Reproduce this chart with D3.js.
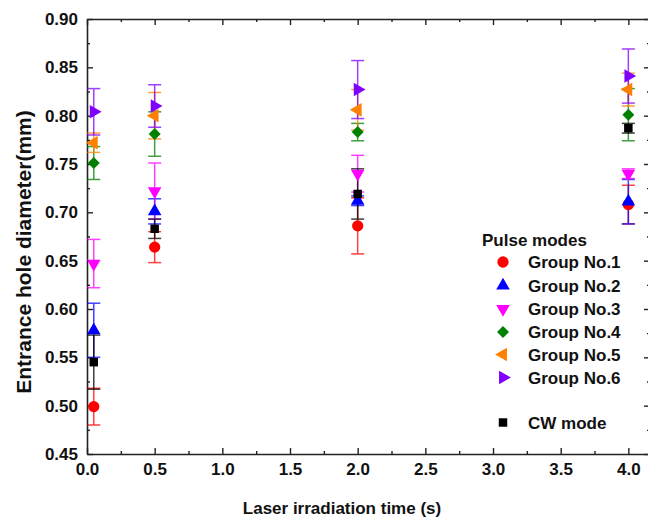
<!DOCTYPE html>
<html>
<head>
<meta charset="utf-8">
<script src="https://cdn.jsdelivr.net/npm/d3@7"></script>
<style>
  html, body { margin: 0; padding: 0; background: #fff; }
  svg { display: block; font-family: "Liberation Sans", Arial, sans-serif; }
</style>
</head>
<body>
<svg id="chart" width="648" height="521"></svg>
<script>
// Irradiation times (s)
const times = [0.05, 0.5, 2.0, 4.0];

// Mean entrance hole diameter (mm) and error for each group
const group1 = [0.499, 0.664, 0.686, 0.708];
const group1Err = [0.019, 0.016, 0.029, 0.020];
const group2 = [0.578, 0.701, 0.712, 0.711];
const group2Err = [0.028, 0.013, 0.005, 0.023];
const group3 = [0.647, 0.722, 0.740, 0.740];
const group3Err = [0.025, 0.029, 0.019, 0.005];
const group4 = [0.751, 0.781, 0.783, 0.801];
const group4Err = [0.017, 0.023, 0.009, 0.027];
const group5 = [0.772, 0.800, 0.806, 0.827];
const group5Err = [0.010, 0.024, 0.021, 0.017];
const group6 = [0.804, 0.810, 0.827, 0.841];
const group6Err = [0.024, 0.022, 0.030, 0.028];
const cwMode = [0.545, 0.683, 0.719, 0.787];
const cwModeErr = [0.028, 0.010, 0.026, 0.005];

const seriesNames = ["Group No.1", "Group No.2", "Group No.3", "Group No.4", "Group No.5", "Group No.6", "CW mode"];

const xTicks = [0, 0.5, 1.0, 1.5, 2.0, 2.5, 3.0, 3.5, 4.0];
const yTicks = [0.45, 0.50, 0.55, 0.60, 0.65, 0.70, 0.75, 0.80, 0.85, 0.90];

const series = [
  { name: seriesNames[0], values: group1, errs: group1Err, color: "#ff0000", shape: d3.symbolCircle, rot: 0, size: 100 },
  { name: seriesNames[1], values: group2, errs: group2Err, color: "#0000ff", shape: d3.symbolTriangle, rot: 0, size: 80 },
  { name: seriesNames[2], values: group3, errs: group3Err, color: "#ff00ff", shape: d3.symbolTriangle, rot: 180, size: 80 },
  { name: seriesNames[3], values: group4, errs: group4Err, color: "#008000", shape: d3.symbolSquare, rot: 45, size: 72 },
  { name: seriesNames[4], values: group5, errs: group5Err, color: "#ff8000", shape: d3.symbolTriangle, rot: -90, size: 80 },
  { name: seriesNames[5], values: group6, errs: group6Err, color: "#8000ff", shape: d3.symbolTriangle, rot: 90, size: 80 },
  { name: seriesNames[6], values: cwMode, errs: cwModeErr, color: "#000000", shape: d3.symbolSquare, rot: 0, size: 72 }
];

const svg = d3.select("#chart");
const plotLeft = 87, plotTop = 19, plotRight = 650, plotBottom = 454;

const x = d3.scaleLinear().domain([0, 4.16]).range([plotLeft, plotRight]);
const y = d3.scaleLinear().domain([0.45, 0.90]).range([plotBottom, plotTop]);

const axisColor = "#222";
const textColor = "#111";

// Frame axes with inward ticks on all four sides
function styleAxis(g) {
  g.selectAll("path.domain").attr("stroke", axisColor).attr("stroke-width", 1.6);
  g.selectAll(".tick line").attr("stroke", axisColor).attr("stroke-width", 1.4);
}
const xMinor = d3.range(0.25, 4.16, 0.5);
const yMinor = d3.range(0.475, 0.9, 0.05);

const gxB = svg.append("g").attr("transform", `translate(0,${plotBottom})`)
  .call(d3.axisBottom(x).tickValues(xTicks).tickSize(-6).tickSizeOuter(0).tickFormat(d3.format(".1f")));
gxB.selectAll("text").attr("font-size", 17).attr("font-weight", "bold").attr("fill", textColor).attr("y", 9);
styleAxis(gxB);
svg.append("g").attr("transform", `translate(0,${plotBottom})`)
  .call(d3.axisBottom(x).tickValues(xMinor).tickSize(-3).tickFormat(""))
  .call(g => g.select("path.domain").remove()).call(styleAxis);

const gxT = svg.append("g").attr("transform", `translate(0,${plotTop})`)
  .call(d3.axisTop(x).tickValues(xTicks).tickSize(-6).tickSizeOuter(0).tickFormat(""));
styleAxis(gxT);
svg.append("g").attr("transform", `translate(0,${plotTop})`)
  .call(d3.axisTop(x).tickValues(xMinor).tickSize(-3).tickFormat(""))
  .call(g => g.select("path.domain").remove()).call(styleAxis);

const gyL = svg.append("g").attr("transform", `translate(${plotLeft},0)`)
  .call(d3.axisLeft(y).tickValues(yTicks).tickSize(-6).tickSizeOuter(0).tickFormat(d3.format(".2f")));
gyL.selectAll("text").attr("font-size", 17).attr("font-weight", "bold").attr("fill", textColor).attr("x", -9);
styleAxis(gyL);
svg.append("g").attr("transform", `translate(${plotLeft},0)`)
  .call(d3.axisLeft(y).tickValues(yMinor).tickSize(-3).tickFormat(""))
  .call(g => g.select("path.domain").remove()).call(styleAxis);

const gyR = svg.append("g").attr("transform", `translate(${plotRight},0)`)
  .call(d3.axisRight(y).tickValues(yTicks).tickSize(-6).tickSizeOuter(0).tickFormat(""));
styleAxis(gyR);
svg.append("g").attr("transform", `translate(${plotRight},0)`)
  .call(d3.axisRight(y).tickValues(yMinor).tickSize(-3).tickFormat(""))
  .call(g => g.select("path.domain").remove()).call(styleAxis);

// Axis titles
svg.append("text")
  .attr("x", 342).attr("y", 514)
  .attr("text-anchor", "middle").attr("font-size", 17).attr("font-weight", "bold").attr("fill", textColor)
  .text("Laser irradiation time (s)");
svg.append("text")
  .attr("transform", `translate(31,252) rotate(-90)`)
  .attr("text-anchor", "middle").attr("font-size", 21).attr("font-weight", "bold").attr("fill", textColor)
  .text("Entrance hole diameter(mm)");

// Error bars, then markers
const capHalf = 6.5;
const plot = svg.append("g");
series.forEach(s => {
  const pts = times.map((t, i) => ({ t, v: s.values[i], e: s.errs[i] }));
  const eg = plot.append("g").attr("stroke", s.color).attr("stroke-width", 1.5).attr("opacity", 0.75);
  eg.selectAll("line.v").data(pts).join("line").attr("class", "v")
    .attr("x1", d => x(d.t)).attr("x2", d => x(d.t))
    .attr("y1", d => y(d.v - d.e)).attr("y2", d => y(d.v + d.e));
  eg.selectAll("line.top").data(pts).join("line").attr("class", "top")
    .attr("x1", d => x(d.t) - capHalf).attr("x2", d => x(d.t) + capHalf)
    .attr("y1", d => y(d.v + d.e)).attr("y2", d => y(d.v + d.e));
  eg.selectAll("line.bot").data(pts).join("line").attr("class", "bot")
    .attr("x1", d => x(d.t) - capHalf).attr("x2", d => x(d.t) + capHalf)
    .attr("y1", d => y(d.v - d.e)).attr("y2", d => y(d.v - d.e));
});
series.forEach(s => {
  const pts = times.map((t, i) => ({ t, v: s.values[i] }));
  const sym = d3.symbol().type(s.shape).size(s.size);
  plot.append("g").selectAll("path").data(pts).join("path")
    .attr("d", sym)
    .attr("fill", s.color)
    .attr("transform", d => `translate(${x(d.t)},${y(d.v)}) rotate(${s.rot})`);
});

// Legend
const lg = svg.append("g");
lg.append("text").attr("x", 482).attr("y", 246).attr("font-size", 17).attr("font-weight", "bold").attr("fill", textColor)
  .text("Pulse modes");
const rowY = [262, 285.5, 309, 332, 354.5, 377.5, 422.5];
series.forEach((s, i) => {
  const sym = d3.symbol().type(s.shape).size(s.size);
  lg.append("path").attr("d", sym).attr("fill", s.color)
    .attr("transform", `translate(503,${rowY[i]}) rotate(${s.rot})`);
  lg.append("text").attr("x", 528).attr("y", rowY[i]).attr("dy", "0.36em")
    .attr("font-size", 17).attr("font-weight", "bold").attr("fill", textColor)
    .text(s.name);
});
</script>
</body>
</html>
